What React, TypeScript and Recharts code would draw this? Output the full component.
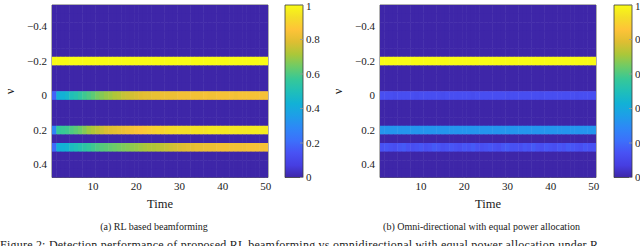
import React from 'react';
import { ScatterChart, Scatter, XAxis, YAxis, ReferenceArea, BarChart, Bar, Label } from 'recharts';

const FONT = '"Liberation Serif", "DejaVu Serif", serif';

// ---------- data ----------
const TIME = [1, 2, 3, 4, 5, 6, 7, 8, 9, 10, 11, 12, 13, 14, 15, 16, 17, 18, 19, 20, 21, 22, 23, 24, 25,
  26, 27, 28, 29, 30, 31, 32, 33, 34, 35, 36, 37, 38, 39, 40, 41, 42, 43, 44, 45, 46, 47, 48, 49, 50];
const NU_BINS = [-0.5, -0.45, -0.4, -0.35, -0.3, -0.25, -0.2, -0.15, -0.1, -0.05, 0, 0.05, 0.1, 0.15, 0.2,
  0.25, 0.3, 0.35, 0.4, 0.45];
const TIME_TICKS = [10, 20, 30, 40, 50];
const NU_TICKS = [-0.4, -0.2, 0, 0.2, 0.4];
const CBAR_TICKS = [0, 0.2, 0.4, 0.6, 0.8, 1];

// (a) RL based beamforming
const RL_NU_M02 = [1, 1, 1, 1, 1, 1, 1, 1, 1, 1, 1, 1, 1, 1, 1, 1, 1, 1, 1, 1, 1, 1, 1, 1, 1,
  1, 1, 1, 1, 1, 1, 1, 1, 1, 1, 1, 1, 1, 1, 1, 1, 1, 1, 1, 1, 1, 1, 1, 1, 1];
const RL_NU_0 = [0.18, 0.42, 0.43, 0.45, 0.5, 0.52, 0.55, 0.58, 0.6, 0.62, 0.65, 0.67, 0.69, 0.7, 0.72,
  0.73, 0.75, 0.76, 0.77, 0.78, 0.79, 0.8, 0.8, 0.81, 0.81, 0.82, 0.82, 0.82, 0.82, 0.83, 0.83, 0.83,
  0.83, 0.83, 0.83, 0.84, 0.83, 0.83, 0.84, 0.84, 0.84, 0.84, 0.83, 0.84, 0.84, 0.84, 0.84, 0.84, 0.84, 0.84];
const RL_NU_02 = [0.28, 0.56, 0.57, 0.58, 0.6, 0.62, 0.64, 0.67, 0.7, 0.72, 0.74, 0.76, 0.78, 0.79, 0.8,
  0.81, 0.82, 0.83, 0.84, 0.85, 0.86, 0.87, 0.88, 0.89, 0.9, 0.9, 0.91, 0.92, 0.92, 0.93, 0.93, 0.93,
  0.94, 0.94, 0.94, 0.94, 0.95, 0.95, 0.95, 0.95, 0.95, 0.95, 0.95, 0.95, 0.95, 0.95, 0.96, 0.96, 0.96, 0.96];
const RL_NU_03 = [0.2, 0.42, 0.43, 0.44, 0.48, 0.5, 0.52, 0.54, 0.56, 0.58, 0.6, 0.61, 0.62, 0.63, 0.64,
  0.65, 0.66, 0.67, 0.68, 0.69, 0.7, 0.71, 0.72, 0.72, 0.73, 0.74, 0.75, 0.76, 0.77, 0.78, 0.79, 0.8,
  0.8, 0.81, 0.81, 0.82, 0.82, 0.82, 0.83, 0.83, 0.83, 0.83, 0.83, 0.83, 0.83, 0.84, 0.84, 0.84, 0.84, 0.84];

// (b) Omni-directional with equal power allocation
const OMNI_NU_M02 = [1, 1, 1, 1, 1, 1, 1, 1, 1, 1, 1, 1, 1, 1, 1, 1, 1, 1, 1, 1, 1, 1, 1, 1, 1,
  1, 1, 1, 1, 1, 1, 1, 1, 1, 1, 1, 1, 1, 1, 1, 1, 1, 1, 1, 1, 1, 1, 1, 1, 1];
const OMNI_NU_0 = [0.13, 0.13, 0.13, 0.12, 0.13, 0.13, 0.13, 0.13, 0.12, 0.13, 0.13, 0.13, 0.13, 0.13, 0.12,
  0.13, 0.13, 0.13, 0.13, 0.13, 0.13, 0.12, 0.13, 0.13, 0.13, 0.13, 0.13, 0.13, 0.13, 0.12, 0.13, 0.13,
  0.13, 0.13, 0.13, 0.13, 0.13, 0.12, 0.13, 0.13, 0.13, 0.13, 0.13, 0.13, 0.13, 0.12, 0.13, 0.13, 0.13, 0.13];
const OMNI_NU_02 = [0.33, 0.33, 0.33, 0.33, 0.33, 0.33, 0.33, 0.33, 0.33, 0.33, 0.33, 0.33, 0.33, 0.33, 0.33,
  0.33, 0.33, 0.33, 0.33, 0.33, 0.33, 0.33, 0.33, 0.33, 0.33, 0.33, 0.33, 0.33, 0.33, 0.33, 0.33, 0.33,
  0.33, 0.33, 0.33, 0.33, 0.33, 0.33, 0.33, 0.33, 0.33, 0.33, 0.33, 0.33, 0.33, 0.33, 0.33, 0.33, 0.33, 0.33];
const OMNI_NU_03 = [0.14, 0.15, 0.14, 0.13, 0.15, 0.16, 0.14, 0.13, 0.14, 0.15, 0.13, 0.14, 0.16, 0.15, 0.13,
  0.14, 0.15, 0.14, 0.13, 0.15, 0.14, 0.16, 0.14, 0.13, 0.14, 0.15, 0.14, 0.13, 0.15, 0.16, 0.14, 0.14,
  0.13, 0.15, 0.14, 0.16, 0.14, 0.13, 0.15, 0.14, 0.13, 0.15, 0.14, 0.16, 0.15, 0.14, 0.13, 0.15, 0.14, 0.14];

const RL_ROWS = [
  { nu: -0.2, values: RL_NU_M02 },
  { nu: 0, values: RL_NU_0 },
  { nu: 0.2, values: RL_NU_02 },
  { nu: 0.3, values: RL_NU_03 },
];
const OMNI_ROWS = [
  { nu: -0.2, values: OMNI_NU_M02 },
  { nu: 0, values: OMNI_NU_0 },
  { nu: 0.2, values: OMNI_NU_02 },
  { nu: 0.3, values: OMNI_NU_03 },
];

// ---------- colormap (parula) ----------
const PARULA: number[][] = [
  [0.0, 62, 38, 168],
  [0.07, 70, 62, 225],
  [0.143, 72, 82, 244],
  [0.214, 60, 112, 251],
  [0.286, 46, 135, 247],
  [0.357, 30, 158, 232],
  [0.429, 18, 177, 214],
  [0.5, 32, 191, 184],
  [0.571, 55, 200, 151],
  [0.643, 110, 203, 103],
  [0.714, 171, 199, 57],
  [0.786, 222, 190, 50],
  [0.857, 254, 195, 56],
  [0.929, 244, 222, 40],
  [1.0, 249, 251, 21],
];
function parula(v: number): string {
  const t = Math.max(0, Math.min(1, v));
  for (let i = 1; i < PARULA.length; i++) {
    const a = PARULA[i - 1];
    const b = PARULA[i];
    if (t <= b[0]) {
      const f = (t - a[0]) / (b[0] - a[0]);
      const c = [1, 2, 3].map((k) => Math.round(a[k] + (b[k] - a[k]) * f));
      return `rgb(${c[0]},${c[1]},${c[2]})`;
    }
  }
  const l = PARULA[PARULA.length - 1];
  return `rgb(${l[1]},${l[2]},${l[3]})`;
}

// ---------- layout ----------
const CHART_H = 246;
const TOP = 5;
const PLOT_H = 172.5;
const PLOT_W = 216;
const XAXIS_H = 30;
const BOTTOM = CHART_H - TOP - PLOT_H - XAXIS_H;
const X_DOMAIN: [number, number] = [0.5, 50.5];
const Y_DOMAIN: [number, number] = [-0.525, 0.475];
const CELL_W = PLOT_W / TIME.length;
const CELL_H = PLOT_H / NU_BINS.length;

function buildCells(rows: { nu: number; values: number[] }[]) {
  const cells: { t: number; nu: number; v: number }[] = [];
  NU_BINS.forEach((nu) => {
    const row = rows.find((r) => Math.abs(r.nu - nu) < 1e-6);
    TIME.forEach((t, i) => {
      cells.push({ t, nu, v: row ? row.values[i] : 0 });
    });
  });
  return cells;
}

const fmtNu = (v: number) => (Math.abs(v) < 1e-9 ? '0' : (v < 0 ? '\u2212' : '') + Math.abs(v).toFixed(1));
const fmtC = (v: number) => (v === 0 ? '0' : v === 1 ? '1' : v.toFixed(1));

const tickStyle = { fontSize: 11, fill: '#1a1a1a', fontFamily: FONT };
const innerTick = { stroke: '#9a9a9a', strokeWidth: 0.8 };

const CellShape = (props: any) => {
  const { cx, cy, payload } = props;
  if (cx == null || cy == null) return null;
  return (
    <rect
      x={cx - CELL_W / 2}
      y={cy - CELL_H / 2}
      width={CELL_W + 0.5}
      height={CELL_H + 0.5}
      fill={parula(payload.v)}
    />
  );
};

function Heatmap({ rows, left, yAxisW }: { rows: any[]; left: number; yAxisW: number }) {
  const data = buildCells(rows);
  const width = 320;
  const marginRight = width - yAxisW - PLOT_W;
  return (
    <div style={{ position: 'absolute', left, top: 0 }}>
      <ScatterChart width={width} height={CHART_H} margin={{ top: TOP, right: marginRight, bottom: BOTTOM, left: 0 }}>
        <XAxis
          type="number"
          dataKey="t"
          domain={X_DOMAIN}
          ticks={TIME_TICKS}
          allowDataOverflow
          height={XAXIS_H}
          axisLine={false}
          tickLine={innerTick}
          tickSize={-4}
          tickMargin={8.5}
          tick={tickStyle}
        >
          <Label value="Time" position="insideBottom" offset={0} style={{ fontSize: 12.5, fill: '#1a1a1a', fontFamily: FONT }} />
        </XAxis>
        <YAxis
          type="number"
          dataKey="nu"
          domain={Y_DOMAIN}
          reversed
          ticks={NU_TICKS}
          allowDataOverflow
          width={yAxisW}
          axisLine={false}
          tickLine={innerTick}
          tickSize={-4}
          tickMargin={9}
          tick={tickStyle}
          tickFormatter={fmtNu}
        />
        <XAxis xAxisId="top" orientation="top" mirror type="number" domain={X_DOMAIN} ticks={TIME_TICKS}
          allowDataOverflow height={0} axisLine={false} tick={false} tickLine={innerTick} tickSize={4} />
        <YAxis yAxisId="right" orientation="right" mirror type="number" domain={Y_DOMAIN} reversed ticks={NU_TICKS}
          allowDataOverflow width={0} axisLine={false} tick={false} tickLine={innerTick} tickSize={4} />
        <Scatter data={data} shape={CellShape} isAnimationActive={false} />
        <ReferenceArea x1={X_DOMAIN[0]} x2={X_DOMAIN[1]} y1={Y_DOMAIN[0]} y2={Y_DOMAIN[1]}
          fill="none" fillOpacity={0} stroke="#3a3a3a" strokeWidth={0.8} strokeOpacity={1} />
      </ScatterChart>
    </div>
  );
}

const CBAR_DATA = [{ k: 'colorbar', v: 1 }];

function ColorBar({ gid, left, barW }: { gid: string; left: number; barW: number }) {
  const tickW = 30;
  return (
    <div style={{ position: 'absolute', left, top: 0 }}>
      <BarChart
        width={15 + barW + tickW}
        height={CHART_H}
        data={CBAR_DATA}
        margin={{ top: TOP, right: 0, bottom: CHART_H - TOP - PLOT_H, left: 15 }}
        barCategoryGap={0}
      >
        <defs>
          <linearGradient id={gid} x1="0" y1="1" x2="0" y2="0">
            {PARULA.map((s, i) => (
              <stop key={i} offset={`${s[0] * 100}%`} stopColor={`rgb(${s[1]},${s[2]},${s[3]})`} />
            ))}
          </linearGradient>
        </defs>
        <XAxis dataKey="k" hide />
        <YAxis
          orientation="right"
          type="number"
          domain={[0, 1]}
          ticks={CBAR_TICKS}
          width={tickW}
          axisLine={false}
          tickLine={innerTick}
          tickSize={-3}
          tickMargin={6}
          tick={tickStyle}
          tickFormatter={fmtC}
        />
        <YAxis yAxisId="l" orientation="left" mirror type="number" domain={[0, 1]} ticks={CBAR_TICKS}
          width={0} axisLine={false} tick={false} tickLine={innerTick} tickSize={3} />
        <Bar dataKey="v" fill={`url(#${gid})`} stroke="#3a3a3a" strokeWidth={0.8} isAnimationActive={false} />
      </BarChart>
    </div>
  );
}

export default function App() {
  return (
    <div style={{ position: 'absolute', left: 0, top: 0, width: 640, height: 246, overflow: 'hidden', background: '#fff' }}>
      <Heatmap rows={RL_ROWS} left={0} yAxisW={52} />
      <ColorBar gid="cbar-a" left={270} barW={18} />
      <Heatmap rows={OMNI_ROWS} left={320} yAxisW={60} />
      <ColorBar gid="cbar-b" left={599} barW={18} />
      <svg width={640} height={246} style={{ position: 'absolute', left: 0, top: 0, pointerEvents: 'none' }}>
        <g fontFamily={FONT} fill="#1a1a1a">
          <text x={9.5} y={91.5} fontSize={12.5} textAnchor="middle" dominantBaseline="central" transform="rotate(-90 9.5 91.5)">ν</text>
          <text x={337.5} y={91.5} fontSize={12.5} textAnchor="middle" dominantBaseline="central" transform="rotate(-90 337.5 91.5)">ν</text>
          <text x={154} y={229.5} fontSize={10} textAnchor="middle">(a) RL based beamforming</text>
          <text x={481.5} y={229.5} fontSize={10} textAnchor="middle">(b) Omni-directional with equal power allocation</text>
          <text x={0} y={248.5} fontSize={12} textLength={598} lengthAdjust="spacing">Figure 2: Detection performance of proposed RL beamforming vs omnidirectional with equal power allocation under R</text>
        </g>
      </svg>
    </div>
  );
}
